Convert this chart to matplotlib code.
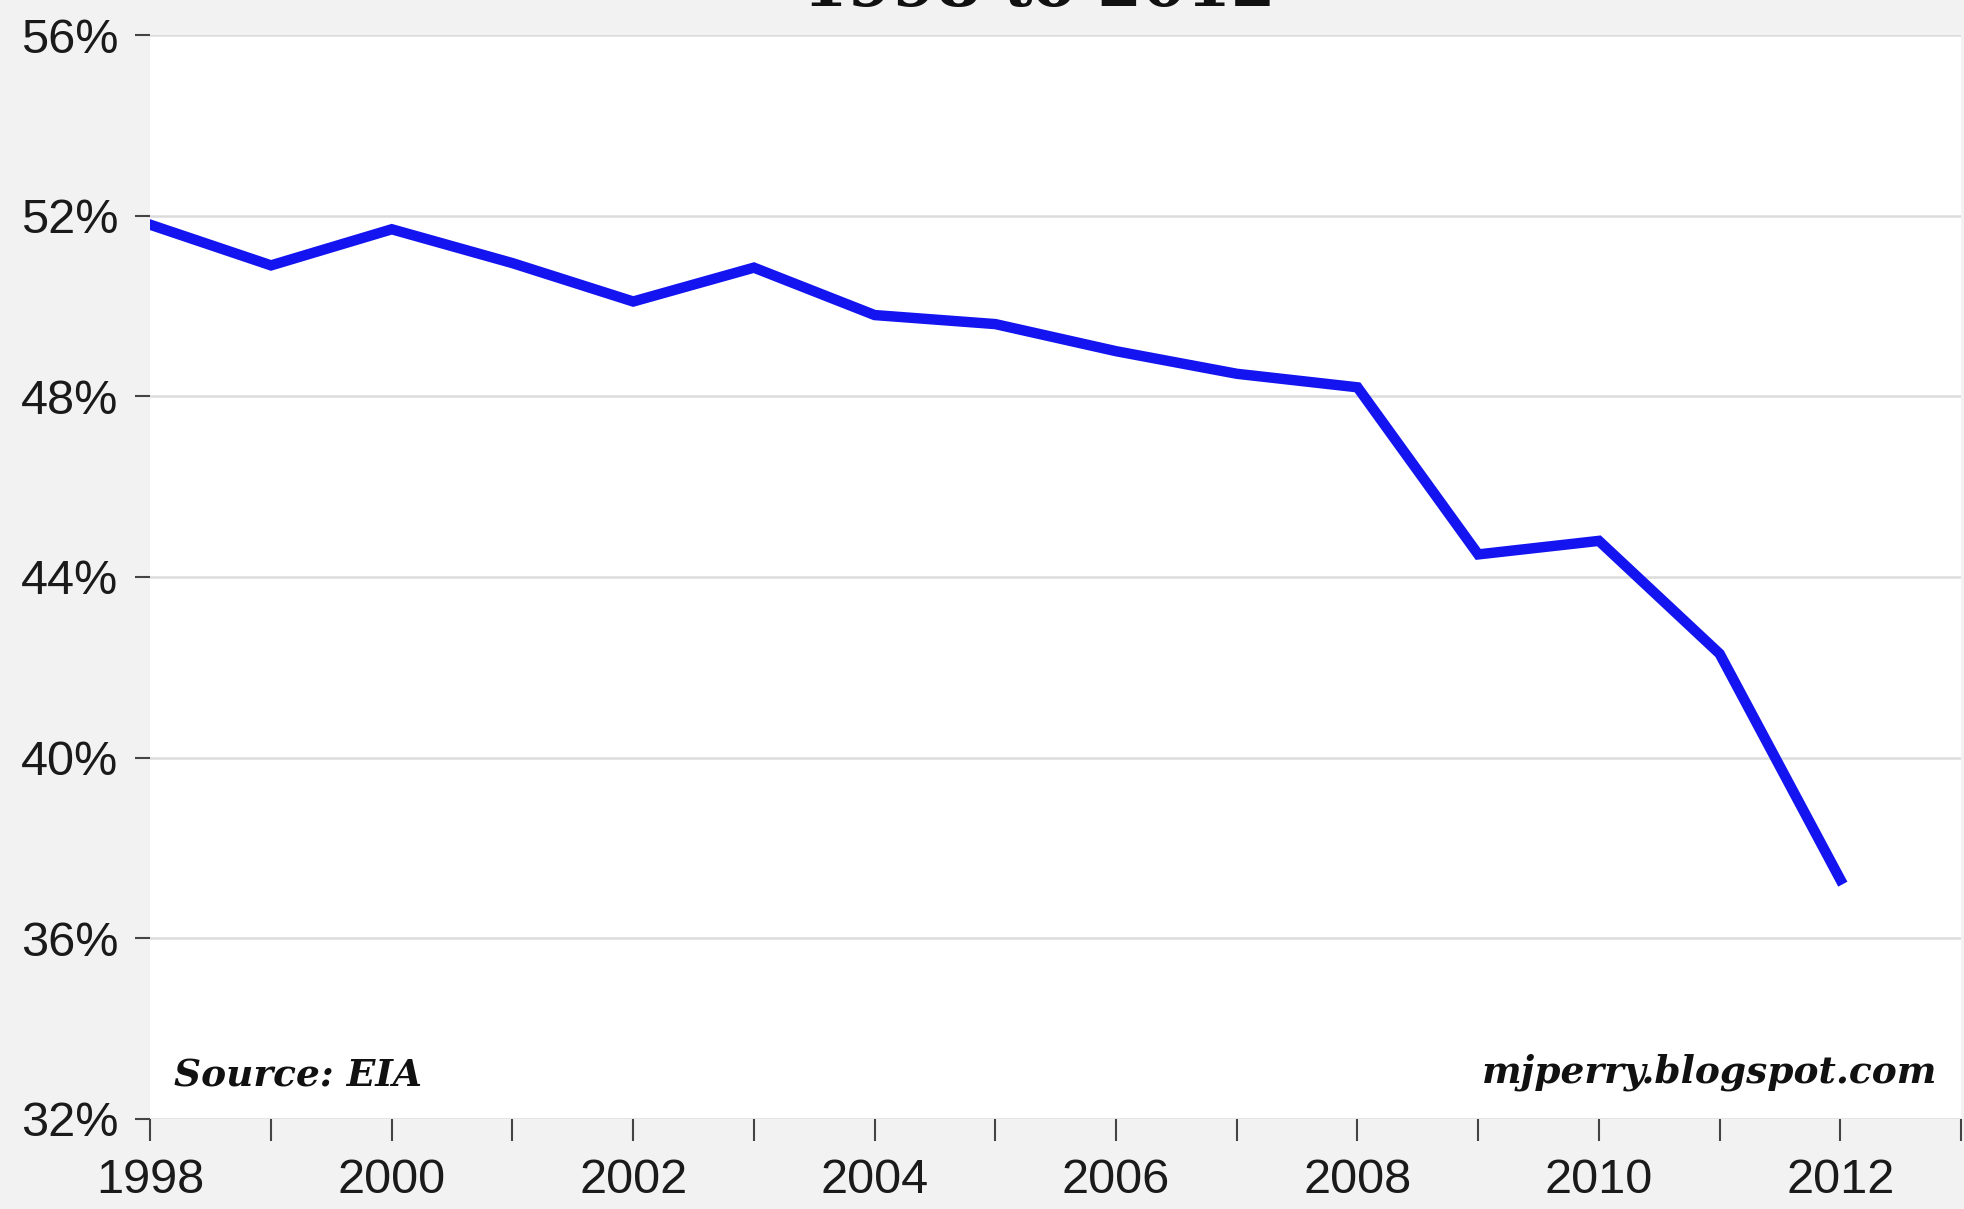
import matplotlib.pyplot as plt
from matplotlib.ticker import MultipleLocator, FuncFormatter

# share of US electricity generated from coal, 1998-2012
years = [1998, 1999, 2000, 2001, 2002, 2003, 2004, 2005,
         2006, 2007, 2008, 2009, 2010, 2011, 2012]
coal_share = [51.8, 50.9, 51.7, 50.95, 50.1, 50.85, 49.8, 49.6,
              49.0, 48.5, 48.2, 44.5, 44.8, 42.3, 37.3]
y_ticks = [32, 36, 40, 44, 48, 52, 56]

fig = plt.figure(figsize=(19.65, 12.09), dpi=100)
fig.patch.set_facecolor('#f2f2f2')
ax = fig.add_axes([0.0765, 0.0745, 0.9215, 0.8965])
ax.set_facecolor('white')

ax.plot(years, coal_share, color='#1414f0', linewidth=7.5, solid_joinstyle='miter')

ax.set_xlim(1998, 2013)
ax.set_ylim(32, 56)
ax.set_yticks(y_ticks)
ax.yaxis.set_major_formatter(FuncFormatter(lambda v, p: f"{v:.0f}%"))
ax.xaxis.set_major_locator(MultipleLocator(1))
ax.xaxis.set_major_formatter(FuncFormatter(lambda v, p: f"{v:.0f}" if int(v) % 2 == 0 and v < 2013 else ""))

ax.grid(axis='y', color='#dcdcdc', linewidth=1.8)
ax.set_axisbelow(True)
for s in ax.spines.values():
    s.set_visible(False)

ax.tick_params(axis='y', direction='out', length=11, width=1.5, color='#444444',
               labelsize=35, pad=12, labelcolor='#1a1a1a')
ax.tick_params(axis='x', direction='out', length=16, width=1.5, color='#444444',
               labelsize=35, pad=12, labelcolor='#1a1a1a')
for lab in ax.get_xticklabels() + ax.get_yticklabels():
    lab.set_family('Liberation Sans')

ax.text(0.013, 0.04, "Source: EIA", transform=ax.transAxes, fontsize=27,
        family='DejaVu Serif', fontweight='bold', fontstyle='italic',
        ha='left', va='center', color='#111111')
ax.text(0.987, 0.043, "mjperry.blogspot.com", transform=ax.transAxes, fontsize=27,
        family='DejaVu Serif', fontweight='bold', fontstyle='italic',
        ha='right', va='center', color='#111111')

# title sits mostly above the image edge, only its bottom shows
fig.text(0.529, 1 - 6 / 1209, "1998 to 2012", fontsize=46, family='DejaVu Serif',
         fontweight='bold', ha='center', va='baseline', color='#111111')

fig.savefig('out.png', dpi=100)
